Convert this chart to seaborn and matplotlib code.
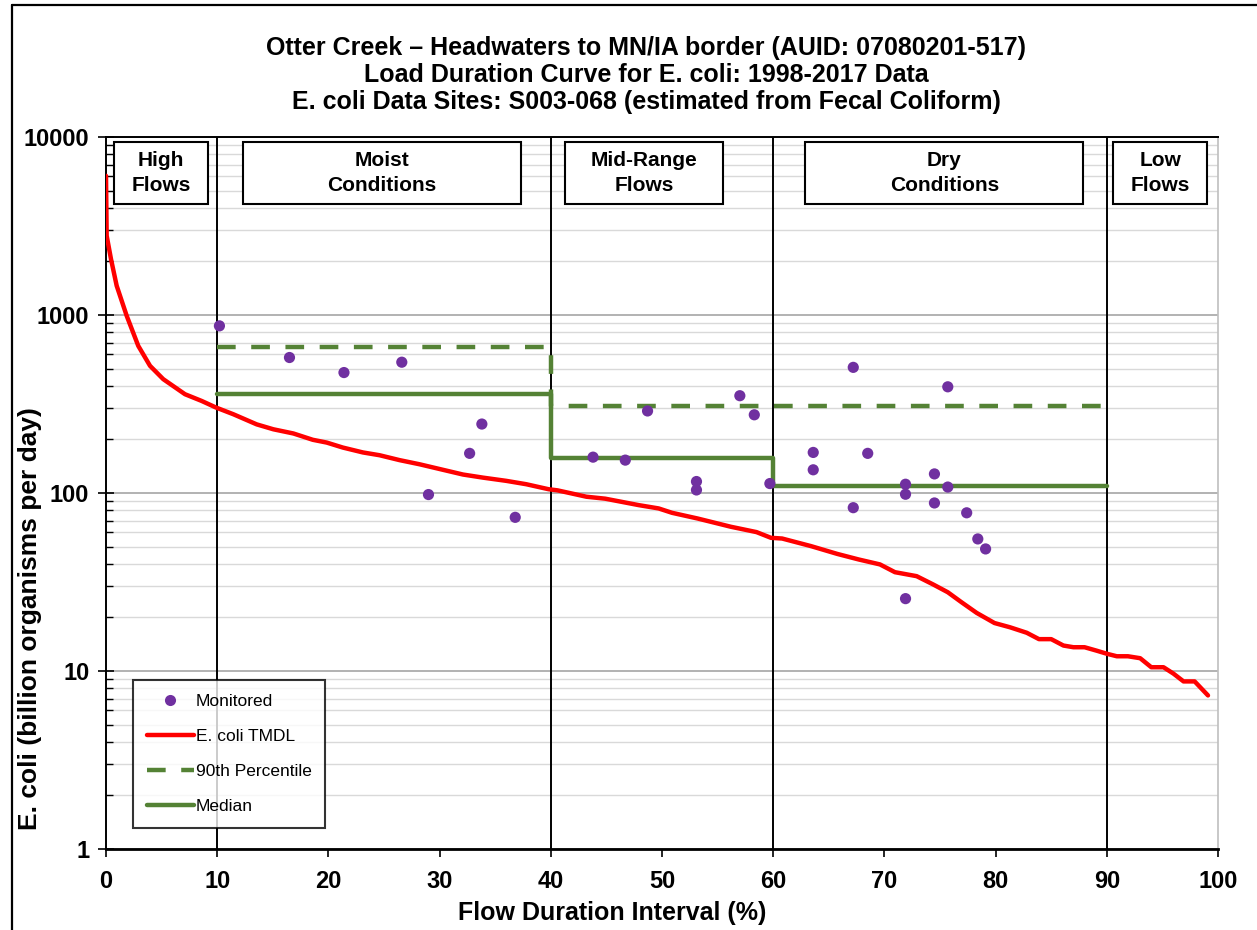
import numpy as np
import pandas as pd
import matplotlib
matplotlib.use("Agg")
import matplotlib.pyplot as plt
import matplotlib.transforms as mtransforms
from matplotlib.patches import Rectangle
from matplotlib.lines import Line2D
import seaborn as sns

sns.set_style("white")
plt.rcParams['font.family'] = ['Liberation Sans', 'DejaVu Sans']
plt.rcParams['text.color'] = 'black'
plt.rcParams['xtick.color'] = 'black'
plt.rcParams['ytick.color'] = 'black'

# E. coli TMDL load duration curve (billion organisms per day)
tmdl_x = [0, 0.06, 0.45, 0.96, 1.86, 2.9, 3.96, 5.15, 7.1, 8.6, 9.9, 11.45, 13.55,
          15.05, 16.85, 18.6, 19.85, 21.3, 23.1, 24.6, 26.4, 28.2, 30.3, 32.1, 33.9,
          36.0, 37.8, 39.8, 40.6, 43.2, 44.9, 47.9, 49.7, 50.9, 53.2, 56.2, 58.5,
          59.8, 60.8, 63.4, 65.75, 67.7, 69.6, 70.95, 72.9, 74.4, 75.7, 76.95, 78.3,
          79.9, 81.3, 82.8, 83.9, 85.0, 86.1, 87.0, 88.0, 89.1, 90.0, 90.9, 91.9,
          93.0, 94.0, 95.1, 96.0, 96.9, 97.9, 99.1]
tmdl_y = [6050, 2790, 2060, 1460, 990, 671, 518, 436, 359, 329, 302, 277, 243,
          228, 216, 199, 192, 180, 169, 163, 153, 145, 135, 127, 122,
          117, 112, 105, 103.5, 95.3, 92.9, 85.5, 81.9, 77.4, 71.9, 64.6, 60.3,
          56.0, 55.5, 50.3, 45.5, 42.3, 39.7, 35.9, 34.1, 30.6, 27.7, 24.3, 21.2,
          18.6, 17.6, 16.4, 15.1, 15.1, 13.9, 13.6, 13.6, 13.0, 12.5, 12.1, 12.1,
          11.8, 10.5, 10.5, 9.66, 8.74, 8.74, 7.29]

# monitored loads
mon_x = [10.2, 16.5, 21.4, 26.6, 29.0, 32.7, 33.8, 36.8, 43.8, 46.7, 48.7, 53.1, 53.1,
         57.0, 58.3, 59.7, 63.6, 63.6, 67.2, 67.2, 68.5, 71.9, 71.9, 71.9, 74.5, 74.5,
         75.7, 75.7, 77.4, 78.4, 79.1]
mon_y = [869, 577, 475, 543, 98, 167, 244, 73, 159, 153, 289, 116, 104,
         352, 275, 113, 169, 135, 508, 82.7, 167, 112, 98.4, 25.5, 128, 87.9,
         395, 108, 77.4, 55.2, 48.5]

# flow zone statistics (step lines)
p90_x = [10, 40, 90]
p90_y = [657, 308, 308]
med_x = [10, 40, 60, 90]
med_y = [359, 157, 109, 109]

zone_bounds = [10, 40, 60, 90]
zone_names = ["High\nFlows", "Moist\nConditions", "Mid-Range\nFlows", "Dry\nConditions", "Low\nFlows"]
zone_box_x = [(0.72, 9.2), (12.3, 37.3), (41.3, 55.5), (62.9, 87.9), (90.6, 99.0)]

GREEN = "#548235"
PURPLE = "#7030A0"
RED = "#FF0000"

fig = plt.figure(figsize=(12.57, 9.30), dpi=100)
ax = fig.add_axes([106 / 1257, 1 - 849 / 930, 1112 / 1257, 712 / 930])

ax.set_yscale("log")
ax.set_xlim(0, 100)
ax.set_ylim(1, 10000)

# grid lines
ax.grid(which="minor", axis="y", color="#D9D9D9", lw=1.0, zorder=0)
ax.grid(which="major", axis="y", color="#A6A6A6", lw=1.2, zorder=0)
ax.set_axisbelow(True)

for xb in zone_bounds:
    ax.axvline(xb, color="black", lw=1.4, zorder=1)

df_tmdl = pd.DataFrame({"x": tmdl_x, "y": tmdl_y})
df_mon = pd.DataFrame({"x": mon_x, "y": mon_y})

sns.lineplot(data=df_tmdl, x="x", y="y", sort=False, color=RED, lw=3.2, ax=ax,
             zorder=3, legend=False)
sns.lineplot(x=p90_x, y=p90_y, sort=False, color=GREEN, lw=3.2, ax=ax,
             drawstyle="steps-post", linestyle=(0, (4.2, 3.5)), zorder=3, legend=False)
sns.lineplot(x=med_x, y=med_y, sort=False, color=GREEN, lw=3.2, ax=ax,
             drawstyle="steps-post", zorder=3, legend=False)
sns.scatterplot(data=df_mon, x="x", y="y", color=PURPLE, s=65, edgecolor="none",
                ax=ax, zorder=4, legend=False)

# zone label boxes
trans = mtransforms.blended_transform_factory(ax.transData, ax.transAxes)
y0, y1 = (849 - 204) / 712, (849 - 142) / 712
for (bx0, bx1), name in zip(zone_box_x, zone_names):
    ax.add_patch(Rectangle((bx0, y0), bx1 - bx0, y1 - y0, transform=trans,
                           facecolor="white", edgecolor="black", lw=1.5, zorder=5))
    ax.text((bx0 + bx1) / 2, (y0 + y1) / 2, name, transform=trans, ha="center",
            va="center", fontsize=15, fontweight="bold", linespacing=1.35, zorder=6)

# axes styling
for side in ["left", "bottom", "top"]:
    ax.spines[side].set_color("black")
ax.spines["bottom"].set_linewidth(2.0)
ax.spines["left"].set_linewidth(1.4)
ax.spines["top"].set_linewidth(1.4)
ax.spines["right"].set_color("#BFBFBF")
ax.spines["right"].set_linewidth(1.2)

ax.set_xticks(np.arange(0, 101, 10))
ax.set_yticks([1, 10, 100, 1000, 10000])
ax.set_yticklabels(["1", "10", "100", "1000", "10000"])
ax.yaxis.set_minor_locator(matplotlib.ticker.LogLocator(base=10, subs=np.arange(2, 10), numticks=20))
ax.yaxis.set_minor_formatter(matplotlib.ticker.NullFormatter())
ax.tick_params(axis="x", which="major", direction="out", length=6, width=1.2,
               labelsize=17, pad=9, bottom=True)
ax.tick_params(axis="y", which="major", direction="inout", length=12, width=1.2,
               labelsize=17, pad=6, left=True)
ax.tick_params(axis="y", which="minor", direction="in", length=5, width=1.0, left=True)
for lab in ax.get_xticklabels() + ax.get_yticklabels():
    lab.set_fontweight("bold")
ax.set_xlabel("")
ax.set_ylabel("")

# legend
handles = [
    Line2D([], [], marker="o", color=PURPLE, ls="none", markersize=8, markeredgecolor="none"),
    Line2D([], [], color=RED, lw=3.2),
    Line2D([], [], color=GREEN, lw=3.2, ls=(0, (4.2, 3.5))),
    Line2D([], [], color=GREEN, lw=3.2),
]
labels = ["Monitored", "E. coli TMDL", "90th Percentile", "Median"]
leg = ax.legend(handles, labels, loc="lower left",
                bbox_to_anchor=((133 - 106) / 1112, (849 - 828) / 712),
                fontsize=12.5, frameon=True, fancybox=False, edgecolor="black",
                handlelength=2.7, handletextpad=0.1, labelspacing=1.15,
                borderpad=0.8, borderaxespad=0)
leg.get_frame().set_linewidth(1.5)
leg.set_zorder(7)

# titles and axis labels
fig.text(646 / 1257, 1 - 48 / 930,
         "Otter Creek \u2013 Headwaters to MN/IA border (AUID: 07080201-517)",
         ha="center", va="center", fontsize=18, fontweight="bold")
fig.text(646 / 1257, 1 - 75 / 930, "Load Duration Curve for E. coli: 1998-2017 Data",
         ha="center", va="center", fontsize=18, fontweight="bold")
fig.text(646 / 1257, 1 - 102 / 930,
         "E. coli Data Sites: S003-068 (estimated from Fecal Coliform)",
         ha="center", va="center", fontsize=18, fontweight="bold")
fig.text(612 / 1257, 1 - 913 / 930, "Flow Duration Interval (%)",
         ha="center", va="center", fontsize=18, fontweight="bold")
fig.text(30 / 1257, 1 - 619 / 930, "E. coli (billion organisms per day)",
         ha="center", va="center", rotation=90, fontsize=19, fontweight="bold")

# outer frame
fig.add_artist(Line2D([12 / 1257, 12 / 1257], [0, 1 - 5 / 930], transform=fig.transFigure,
                      color="black", lw=1.6))
fig.add_artist(Line2D([12 / 1257, 1], [1 - 5 / 930, 1 - 5 / 930], transform=fig.transFigure,
                      color="black", lw=1.6))

fig.savefig("out.png", dpi=100)
